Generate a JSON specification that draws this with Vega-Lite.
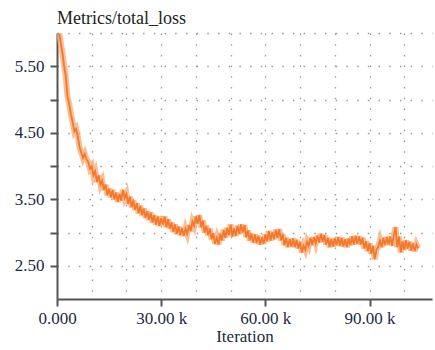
{
  "$schema": "https://vega.github.io/schema/vega-lite/v6.json",
  "autosize": {"type": "none"},
  "padding": {"left": 57, "top": 33, "right": 3, "bottom": 51},
  "width": 375,
  "height": 266,
  "title": {"text": "Metrics/total_loss", "anchor": "start", "frame": "group", "font": "'Liberation Serif', 'DejaVu Serif', serif", "fontSize": 18, "fontWeight": "normal", "color": "#222222", "offset": -4},
  "config": {"view": {"stroke": null}, "background": "white", "font": "'Liberation Serif', 'DejaVu Serif', serif"},
  "data": {"values": [
    {"iter":700,"loss":5.99},{"iter":1000,"loss":5.88},{"iter":1500,"loss":5.72},{"iter":2000,"loss":5.52},{"iter":2500,"loss":5.36},{"iter":3000,"loss":5.05},{"iter":3500,"loss":4.93},{"iter":4000,"loss":4.78},{"iter":4500,"loss":4.66},{"iter":5000,"loss":4.52},{"iter":5500,"loss":4.56},{"iter":6000,"loss":4.44},{"iter":6500,"loss":4.28},{"iter":7000,"loss":4.20},{"iter":7500,"loss":4.12},{"iter":8000,"loss":4.18},{"iter":8500,"loss":4.10},{"iter":9000,"loss":4.06},{"iter":9500,"loss":3.96},{"iter":10000,"loss":4.00},
    {"iter":10500,"loss":3.86},{"iter":11000,"loss":3.92},{"iter":11500,"loss":3.76},{"iter":12000,"loss":3.86},{"iter":12500,"loss":3.72},{"iter":13000,"loss":3.78},{"iter":13500,"loss":3.64},{"iter":14000,"loss":3.72},{"iter":14500,"loss":3.56},{"iter":15000,"loss":3.66},{"iter":15500,"loss":3.53},{"iter":16000,"loss":3.64},{"iter":16500,"loss":3.50},{"iter":17000,"loss":3.60},{"iter":17500,"loss":3.46},{"iter":18000,"loss":3.58},{"iter":18500,"loss":3.48},{"iter":19000,"loss":3.64},{"iter":19500,"loss":3.52},{"iter":20000,"loss":3.58},
    {"iter":20500,"loss":3.43},{"iter":21000,"loss":3.54},{"iter":21500,"loss":3.38},{"iter":22000,"loss":3.48},{"iter":22500,"loss":3.34},{"iter":23000,"loss":3.44},{"iter":23500,"loss":3.29},{"iter":24000,"loss":3.40},{"iter":24500,"loss":3.26},{"iter":25000,"loss":3.36},{"iter":25500,"loss":3.22},{"iter":26000,"loss":3.32},{"iter":26500,"loss":3.19},{"iter":27000,"loss":3.30},{"iter":27500,"loss":3.15},{"iter":28000,"loss":3.26},{"iter":28500,"loss":3.12},{"iter":29000,"loss":3.24},{"iter":29500,"loss":3.10},{"iter":30000,"loss":3.22},
    {"iter":30500,"loss":3.12},{"iter":31000,"loss":3.24},{"iter":31500,"loss":3.08},{"iter":32000,"loss":3.20},{"iter":32500,"loss":3.06},{"iter":33000,"loss":3.15},{"iter":33500,"loss":3.01},{"iter":34000,"loss":3.12},{"iter":34500,"loss":2.98},{"iter":35000,"loss":3.09},{"iter":35500,"loss":2.96},{"iter":36000,"loss":3.07},{"iter":36500,"loss":2.95},{"iter":37000,"loss":3.06},{"iter":37500,"loss":2.98},{"iter":38000,"loss":3.11},{"iter":38500,"loss":3.02},{"iter":39000,"loss":3.16},{"iter":39500,"loss":3.10},{"iter":40000,"loss":3.24},
    {"iter":40500,"loss":3.13},{"iter":41000,"loss":3.26},{"iter":41500,"loss":3.08},{"iter":42000,"loss":3.18},{"iter":42500,"loss":3.00},{"iter":43000,"loss":3.10},{"iter":43500,"loss":2.96},{"iter":44000,"loss":3.06},{"iter":44500,"loss":2.90},{"iter":45000,"loss":2.99},{"iter":45500,"loss":2.83},{"iter":46000,"loss":2.92},{"iter":46500,"loss":2.82},{"iter":47000,"loss":2.98},{"iter":47500,"loss":2.88},{"iter":48000,"loss":3.04},{"iter":48500,"loss":2.92},{"iter":49000,"loss":3.07},{"iter":49500,"loss":2.96},{"iter":50000,"loss":3.12},
    {"iter":50500,"loss":2.94},{"iter":51000,"loss":3.06},{"iter":51500,"loss":2.95},{"iter":52000,"loss":3.10},{"iter":52500,"loss":2.98},{"iter":53000,"loss":3.12},{"iter":53500,"loss":3.00},{"iter":54000,"loss":3.11},{"iter":54500,"loss":2.93},{"iter":55000,"loss":3.03},{"iter":55500,"loss":2.88},{"iter":56000,"loss":2.98},{"iter":56500,"loss":2.85},{"iter":57000,"loss":2.97},{"iter":57500,"loss":2.84},{"iter":58000,"loss":2.95},{"iter":58500,"loss":2.82},{"iter":59000,"loss":2.93},{"iter":59500,"loss":2.83},{"iter":60000,"loss":2.97},
    {"iter":60500,"loss":2.87},{"iter":61000,"loss":3.02},{"iter":61500,"loss":2.88},{"iter":62000,"loss":3.00},{"iter":62500,"loss":2.90},{"iter":63000,"loss":3.04},{"iter":63500,"loss":2.92},{"iter":64000,"loss":3.05},{"iter":64500,"loss":2.88},{"iter":65000,"loss":2.97},{"iter":65500,"loss":2.81},{"iter":66000,"loss":2.92},{"iter":66500,"loss":2.78},{"iter":67000,"loss":2.90},{"iter":67500,"loss":2.79},{"iter":68000,"loss":2.91},{"iter":68500,"loss":2.78},{"iter":69000,"loss":2.89},{"iter":69500,"loss":2.76},{"iter":70000,"loss":2.86},
    {"iter":70500,"loss":2.70},{"iter":71000,"loss":2.80},{"iter":71500,"loss":2.74},{"iter":72000,"loss":2.86},{"iter":72500,"loss":2.80},{"iter":73000,"loss":2.92},{"iter":73500,"loss":2.81},{"iter":74000,"loss":2.93},{"iter":74500,"loss":2.84},{"iter":75000,"loss":2.95},{"iter":75500,"loss":2.85},{"iter":76000,"loss":2.98},{"iter":76500,"loss":2.86},{"iter":77000,"loss":2.96},{"iter":77500,"loss":2.82},{"iter":78000,"loss":2.92},{"iter":78500,"loss":2.78},{"iter":79000,"loss":2.90},{"iter":79500,"loss":2.79},{"iter":80000,"loss":2.91},
    {"iter":80500,"loss":2.81},{"iter":81000,"loss":2.93},{"iter":81500,"loss":2.80},{"iter":82000,"loss":2.92},{"iter":82500,"loss":2.79},{"iter":83000,"loss":2.90},{"iter":83500,"loss":2.78},{"iter":84000,"loss":2.91},{"iter":84500,"loss":2.81},{"iter":85000,"loss":2.94},{"iter":85500,"loss":2.82},{"iter":86000,"loss":2.95},{"iter":86500,"loss":2.83},{"iter":87000,"loss":2.94},{"iter":87500,"loss":2.82},{"iter":88000,"loss":2.92},{"iter":88500,"loss":2.76},{"iter":89000,"loss":2.87},{"iter":89500,"loss":2.72},{"iter":90000,"loss":2.84},
    {"iter":90500,"loss":2.68},{"iter":91000,"loss":2.80},{"iter":91500,"loss":2.60},{"iter":92000,"loss":2.74},{"iter":92500,"loss":2.78},{"iter":93000,"loss":2.88},{"iter":93500,"loss":2.78},{"iter":94000,"loss":2.92},{"iter":94500,"loss":2.81},{"iter":95000,"loss":2.93},{"iter":95500,"loss":2.82},{"iter":96000,"loss":2.94},{"iter":96500,"loss":2.80},{"iter":97000,"loss":2.96},{"iter":97500,"loss":3.08},{"iter":98000,"loss":2.78},{"iter":98500,"loss":2.94},{"iter":99000,"loss":2.70},{"iter":99500,"loss":2.87},{"iter":100000,"loss":2.74},
    {"iter":100500,"loss":2.88},{"iter":101000,"loss":2.76},{"iter":101500,"loss":2.86},{"iter":102000,"loss":2.73},{"iter":102500,"loss":2.84},{"iter":103000,"loss":2.72},{"iter":103500,"loss":2.82},{"iter":104000,"loss":2.76}
  ]},
  "encoding": {
    "x": {
      "field": "iter", "type": "quantitative",
      "scale": {"domain": [0, 108000], "nice": false, "zero": false},
      "axis": {
        "title": "Iteration",
        "values": [0, 10000, 20000, 30000, 40000, 50000, 60000, 70000, 80000, 90000, 100000],
        "labelExpr": "datum.value == 0 ? '0.000' : (datum.value % 30000 == 0 ? format(datum.value / 1000, '.2f') + ' k' : '')",
        "tickOpacity": {"condition": {"test": "datum.value % 30000 == 0", "value": 1}, "value": 0},
        "grid": true,
        "gridOpacity": {"condition": {"test": "datum.value == 0", "value": 0}, "value": 1},
        "gridColor": "#9a9a9a", "gridDash": [1.5, 9.2], "gridWidth": 1.3,
        "domainColor": "#555555", "domainWidth": 2,
        "tickColor": "#555555", "tickWidth": 2, "tickSize": 7,
        "labelFont": "'Liberation Serif', 'DejaVu Serif', serif", "labelFontSize": 17, "labelColor": "#1d2a44", "labelPadding": 4,
        "labelFlush": false, "labelOverlap": false,
        "titleFont": "'Liberation Serif', 'DejaVu Serif', serif", "titleFontSize": 17, "titleFontWeight": "normal", "titleColor": "#1d2a44", "titlePadding": 2
      }
    },
    "y": {
      "field": "loss", "type": "quantitative",
      "scale": {"domain": [2, 6], "nice": false, "zero": false},
      "axis": {
        "title": null,
        "values": [2, 2.5, 3, 3.5, 4, 4.5, 5, 5.5, 6],
        "labelExpr": "(datum.value * 2) % 2 == 1 ? format(datum.value, '.2f') : ''",
        "tickOpacity": {"condition": {"test": "datum.value > 2.2 && datum.value < 5.8", "value": 1}, "value": 0},
        "grid": true,
        "gridOpacity": {"condition": {"test": "datum.value == 2", "value": 0}, "value": 1},
        "gridColor": "#9a9a9a", "gridDash": [1.5, 9.2], "gridWidth": 1.3,
        "domainColor": "#555555", "domainWidth": 2,
        "tickColor": "#555555", "tickWidth": 2, "tickSize": 7,
        "labelFont": "'Liberation Serif', 'DejaVu Serif', serif", "labelFontSize": 17, "labelColor": "#1d2a44", "labelPadding": 6,
        "labelOverlap": false
      }
    }
  },
  "layer": [
    {"mark": {"type": "line", "color": "#fbaa72", "strokeWidth": 6, "opacity": 0.75, "clip": true}},
    {"mark": {"type": "line", "color": "#f4772a", "strokeWidth": 1.8, "clip": true}}
  ]
}
